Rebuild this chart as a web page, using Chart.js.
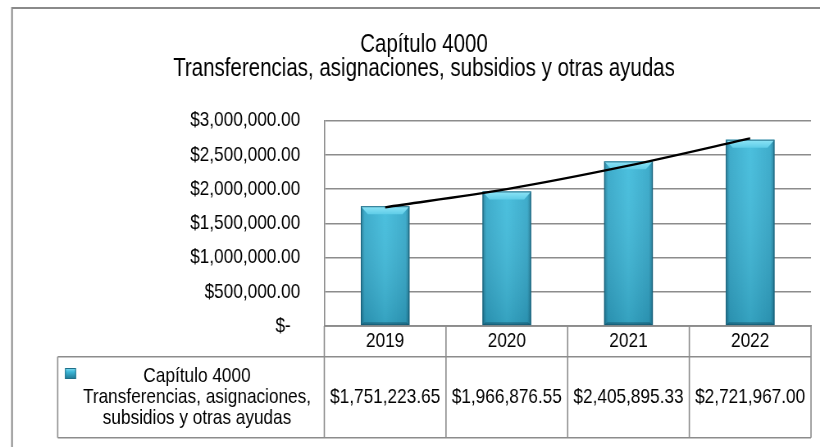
<!DOCTYPE html>
<html><head><meta charset="utf-8">
<script src="https://cdn.jsdelivr.net/npm/chart.js@4"></script>
<style>
html,body{margin:0;padding:0;background:#fff;overflow:hidden}
#wrap{width:1000px;height:447px;position:relative;transform:scaleX(0.82);transform-origin:0 0}
</style>
</head><body><div id="wrap"><canvas id="c"></canvas></div>
<script>
const categories = ['2019', '2020', '2021', '2022'];
const seriesValues = [1751223.65, 1966876.55, 2405895.33, 2721967.00];
const trendValues = [1735000, 2000000, 2342000, 2740000];
const seriesNameLines = ['Capítulo 4000', 'Transferencias, asignaciones,', 'subsidios y otras ayudas'];
const titleLines = ['Capítulo 4000', 'Transferencias, asignaciones, subsidios y otras ayudas'];
const yTickValues = [0, 500000, 1000000, 1500000, 2000000, 2500000, 3000000];

// the drawing is made 1/K wider and squeezed back to 820px to get narrow (Arial Narrow-like) text
const K = 0.82;
const FONT = '"Liberation Sans", Arial, sans-serif';
const GRID = '#8c8c8c';
const TXT = 21;

function fmtMoney(v) { return '$' + v.toLocaleString('en-US', {minimumFractionDigits: 2, maximumFractionDigits: 2}); }
function fmtTick(v) { return v === 0 ? '$-  ' : fmtMoney(v); }

function barFill(ctx) {
  const chart = ctx.chart;
  if (!chart.chartArea || !chart.scales.x) return '#38b0d0';
  const xs = chart.scales.x;
  const cx = xs.getPixelForValue(ctx.dataIndex);
  const w = xs.width / categories.length * 0.4;
  const g = chart.ctx.createLinearGradient(cx - w / 2, 0, cx + w / 2, 0);
  g.addColorStop(0, '#217a95');
  g.addColorStop(0.08, '#33a7c8');
  g.addColorStop(0.5, '#40bcdc');
  g.addColorStop(0.92, '#33a7c8');
  g.addColorStop(1, '#217a95');
  return g;
}

const barDecor = {
  id: 'barDecor',
  afterDatasetDraw(chart, args) {
    if (args.index !== 0) return;
    const g = chart.ctx;
    g.save();
    args.meta.data.forEach(bar => {
      const x0 = bar.x - bar.width / 2, x1 = bar.x + bar.width / 2, top = bar.y, base = bar.base;
      const vg = g.createLinearGradient(0, top, 0, base);
      vg.addColorStop(0, 'rgba(255,255,255,0.06)');
      vg.addColorStop(1, 'rgba(0,40,60,0.18)');
      g.fillStyle = vg;
      g.fillRect(x0, top, bar.width, base - top);
      const b = 8, s = 8.5;
      const tg = g.createLinearGradient(0, top, 0, top + b);
      tg.addColorStop(0, '#8fe5f7');
      tg.addColorStop(1, '#5fcde8');
      g.fillStyle = tg;
      g.beginPath();
      g.moveTo(x0, top); g.lineTo(x1, top); g.lineTo(x1 - s, top + b); g.lineTo(x0 + s, top + b); g.closePath();
      g.fill();
      g.fillStyle = 'rgba(10,60,80,0.4)';
      g.beginPath();
      g.moveTo(x0, base); g.lineTo(x1, base); g.lineTo(x1 - 4, base - 3); g.lineTo(x0 + 4, base - 3); g.closePath();
      g.fill();
      g.strokeStyle = 'rgba(20,90,115,0.7)';
      g.lineWidth = 1.2;
      g.strokeRect(x0 + 0.6, top + 0.5, bar.width - 1.2, base - top - 1);
    });
    g.restore();
  }
};

const dataTable = {
  id: 'dataTable',
  afterDraw(chart) {
    const g = chart.ctx;
    const xs = chart.scales.x;
    const n = categories.length;
    const cw = xs.width / n;
    const top1 = xs.top;
    const top2 = xs.bottom;
    const bottom2 = top2 + 81;
    const legLeft = 57.7 / K;
    g.save();
    g.strokeStyle = GRID;
    g.lineWidth = 1.6;
    g.beginPath();
    for (let i = 0; i <= n; i++) {
      const x = xs.left + i * cw;
      g.moveTo(x, top1); g.lineTo(x, bottom2);
    }
    g.moveTo(xs.left, top1); g.lineTo(xs.right, top1);
    g.moveTo(legLeft, top2); g.lineTo(xs.right, top2);
    g.moveTo(legLeft, bottom2); g.lineTo(xs.right, bottom2);
    g.moveTo(legLeft, top2); g.lineTo(legLeft, bottom2);
    g.stroke();
    // outer chart border
    g.strokeStyle = '#8a8a8a';
    g.lineWidth = 2;
    g.beginPath();
    g.moveTo(12 / K, chart.height); g.lineTo(12 / K, 8); g.lineTo(chart.width, 8);
    g.stroke();
    // values
    g.fillStyle = '#000';
    g.font = TXT + 'px ' + FONT;
    g.textAlign = 'center';
    g.textBaseline = 'middle';
    const midY = (top2 + bottom2) / 2;
    seriesValues.forEach((v, i) => {
      g.fillText(fmtMoney(v), xs.getPixelForValue(i), midY);
    });
    // legend text
    const lh = 20.7;
    const lx = 197 / K;
    seriesNameLines.forEach((t, i) => {
      g.fillText(t, lx, midY + (i - (seriesNameLines.length - 1) / 2) * lh);
    });
    // legend key
    const kx = 65 / K, ky = 368, kw = 11 / K, kh = 11;
    const kg = g.createLinearGradient(0, ky, 0, ky + kh);
    kg.addColorStop(0, '#86e0f4');
    kg.addColorStop(0.35, '#3cb7d8');
    kg.addColorStop(1, '#1f7590');
    g.fillStyle = kg;
    g.fillRect(kx, ky, kw, kh);
    g.strokeStyle = '#1f6f88';
    g.lineWidth = 1;
    g.strokeRect(kx + 0.5, ky + 0.5, kw - 1, kh - 1);
    g.restore();
  }
};

new Chart(document.getElementById('c'), {
  data: {
    labels: categories,
    datasets: [
      {
        type: 'bar',
        label: seriesNameLines.join(' '),
        data: seriesValues,
        backgroundColor: barFill,
        borderWidth: 0,
        barPercentage: 0.4,
        categoryPercentage: 1.0,
        order: 2
      },
      {
        type: 'line',
        label: 'Tendencia',
        data: trendValues,
        borderColor: '#000',
        borderWidth: 2.3,
        pointRadius: 0,
        tension: 0.35,
        fill: false,
        order: 1
      }
    ]
  },
  plugins: [barDecor, dataTable],
  options: {
    responsive: true,
    maintainAspectRatio: false,
    animation: false,
    layout: { padding: { left: 37 / K, right: 9 / K, top: 0, bottom: 90.3 } },
    plugins: {
      legend: { display: false },
      tooltip: { enabled: false },
      title: {
        display: true,
        text: titleLines,
        color: '#000',
        font: { family: FONT, size: 25, weight: 'normal', lineHeight: 0.96 },
        padding: { top: 33.3, bottom: 39.4 }
      }
    },
    scales: {
      x: {
        offset: true,
        grid: { display: false, drawTicks: false },
        border: { display: true, color: GRID, width: 1.6 },
        ticks: { color: '#000', padding: 3, font: { family: FONT, size: TXT }, maxRotation: 0 },
        afterFit: s => { s.height = 30.7; }
      },
      y: {
        min: 0,
        max: 3000000,
        afterBuildTicks: s => { s.ticks = yTickValues.map(v => ({ value: v })); },
        grid: { color: GRID, lineWidth: 1.6, drawTicks: false },
        border: { display: true, color: GRID, width: 1.6 },
        ticks: { color: '#000', padding: 24 / K, font: { family: FONT, size: TXT }, callback: v => fmtTick(v) },
        afterFit: s => { s.width = (324.3 - 37) / K; }
      }
    }
  }
});
</script>
</body></html>
